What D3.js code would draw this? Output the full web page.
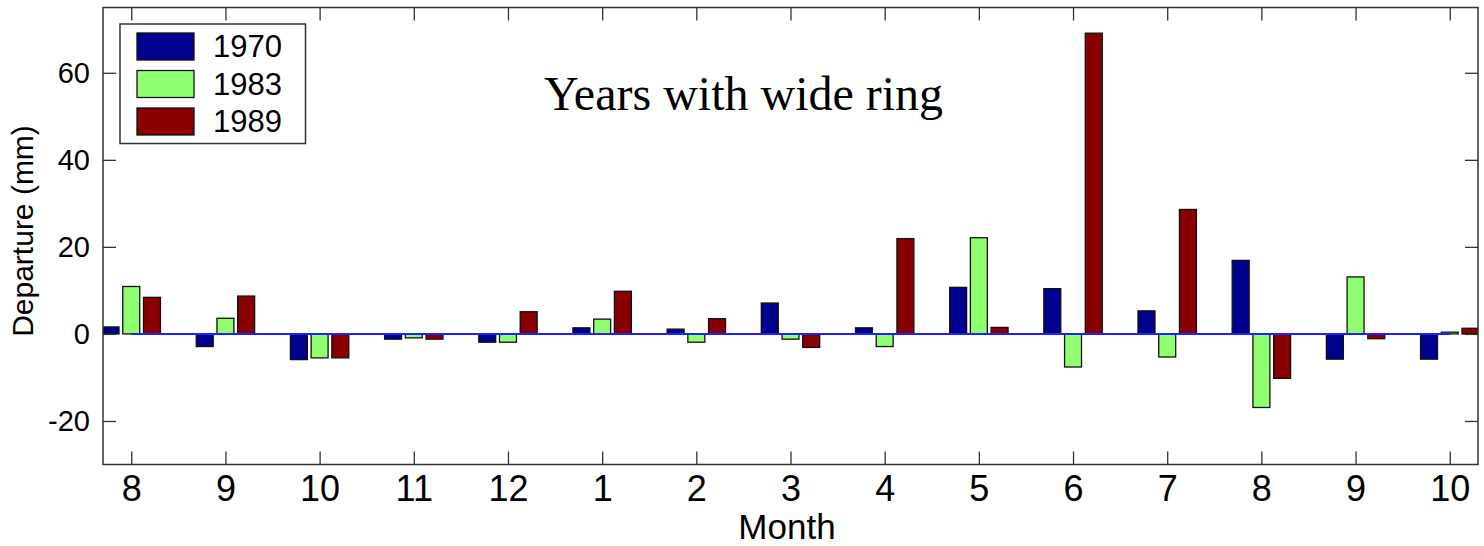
<!DOCTYPE html>
<html>
<head>
<meta charset="utf-8">
<script src="https://cdn.jsdelivr.net/npm/d3@7"></script>
<style>
  body { margin: 0; background: #fff; }
  svg { display: block; font-family: Arial, "Liberation Sans", sans-serif; }
</style>
</head>
<body>
<script>
// data (departure in mm)
let months = ["8", "9", "10", "11", "12", "1", "2", "3", "4", "5", "6", "7", "8", "9", "10"];
let years = ["1970", "1983", "1989"];
let v1970 = [1.6, -2.9, -5.9, -1.2, -1.9, 1.4, 1.1, 7.1, 1.4, 10.7, 10.4, 5.3, 16.9, -5.8, -5.8];
let v1983 = [10.9, 3.6, -5.5, -0.9, -1.9, 3.4, -1.9, -1.2, -2.9, 22.1, -7.6, -5.3, -16.9, 13.1, 0.4];
let v1989 = [8.4, 8.7, -5.5, -1.2, 5.1, 9.8, 3.5, -3.1, 21.9, 1.5, 69.1, 28.6, -10.2, -1.1, 1.3];
let yTicks = [-20, 0, 20, 40, 60];
let colors = ["#00008f", "#8fff70", "#880000"];

let w = 1484;
let h = 546;
let pLeft = 103, pRight = 1478, pTop = 7.5, pBottom = 464.5;

let series = [v1970, v1983, v1989];

let x = d3.scaleLinear()
          .domain([0.7, 15.3])
          .range([pLeft, pRight]);

let y = d3.scaleLinear()
          .domain([-30, 75])
          .range([pBottom, pTop]);

let barW = 0.18;   // in month units
let offs = [-0.22, 0, 0.22];

let svg = d3.select("body")
            .append("svg")
            .attr("width", w)
            .attr("height", h);

svg.append("clipPath")
   .attr("id", "plot")
   .append("rect")
   .attr("x", pLeft)
   .attr("y", pTop)
   .attr("width", pRight - pLeft)
   .attr("height", pBottom - pTop);

let plot = svg.append("g")
              .attr("clip-path", "url(#plot)");

//one group per year
series.forEach((vals, s) => {
	plot.append("g")
	    .selectAll("rect")
	    .data(vals)
	    .enter()
	    .append("rect")
	    .attr("x", (d, i) => x(i + 1 + offs[s] - barW / 2))
	    .attr("width", x(barW) - x(0))
	    .attr("y", d => y(Math.max(0, d)))
	    .attr("height", d => Math.abs(y(d) - y(0)))
	    .style("fill", colors[s])
	    .style("stroke", "#111")
	    .style("stroke-width", 1.3);
});

//zero line from first to last month
plot.append("line")
    .attr("x1", x(1))
    .attr("x2", x(months.length))
    .attr("y1", y(0))
    .attr("y2", y(0))
    .style("stroke", "#2020ff")
    .style("stroke-width", 2);

//axes box with inward ticks on all sides
let tickLen = 13;
let monthIdx = d3.range(1, months.length + 1);

let xAxisB = d3.axisBottom(x)
               .tickValues(monthIdx)
               .tickSize(-tickLen)
               .tickFormat(d => months[d - 1]);
let xAxisT = d3.axisTop(x)
               .tickValues(monthIdx)
               .tickSize(-tickLen)
               .tickFormat("");
let yAxisL = d3.axisLeft(y)
               .tickValues(yTicks)
               .tickSize(-tickLen)
               .tickFormat(d => String(d));
let yAxisR = d3.axisRight(y)
               .tickValues(yTicks)
               .tickSize(-tickLen)
               .tickFormat("");

let gx = svg.append("g")
            .attr("transform", `translate(0,${pBottom})`)
            .call(xAxisB);
gx.selectAll("text")
  .attr("y", 0)
  .attr("dy", "1.02em")
  .style("font-size", "36px")
  .style("fill", "#000");

svg.append("g")
   .attr("transform", `translate(0,${pTop})`)
   .call(xAxisT);

let gy = svg.append("g")
            .attr("transform", `translate(${pLeft},0)`)
            .call(yAxisL);
gy.selectAll("text")
  .attr("x", -13)
  .style("font-size", "29px")
  .style("fill", "#000");

svg.append("g")
   .attr("transform", `translate(${pRight},0)`)
   .call(yAxisR);

svg.selectAll(".domain").remove();
svg.selectAll(".tick line")
   .style("stroke", "#333")
   .style("stroke-width", 1.3);

svg.append("rect")
   .attr("x", pLeft)
   .attr("y", pTop)
   .attr("width", pRight - pLeft)
   .attr("height", pBottom - pTop)
   .style("fill", "none")
   .style("stroke", "#333")
   .style("stroke-width", 1.5);

//axis titles
svg.append("text")
   .attr("x", 787)
   .attr("y", 539)
   .attr("text-anchor", "middle")
   .style("font-size", "35px")
   .text("Month");

svg.append("text")
   .attr("transform", "translate(33,231) rotate(-90)")
   .attr("text-anchor", "middle")
   .style("font-size", "30px")
   .text("Departure (mm)");

//title inside the plot
svg.append("text")
   .attr("x", 544)
   .attr("y", 110)
   .style("font-family", "'Liberation Serif', 'Times New Roman', serif")
   .style("font-size", "48px")
   .text("Years with wide ring");

//legend
let legend = svg.append("g")
                .attr("class", "legend");

legend.append("rect")
      .attr("x", 120)
      .attr("y", 24)
      .attr("width", 185.5)
      .attr("height", 119.5)
      .style("fill", "#fff")
      .style("stroke", "#333")
      .style("stroke-width", 1.5);

let rows = legend.selectAll("g.row")
                 .data(years)
                 .enter()
                 .append("g")
                 .attr("class", "row")
                 .attr("transform", (d, i) => `translate(0,${i * 37.5})`);

rows.append("rect")
    .attr("x", 137)
    .attr("y", 33)
    .attr("width", 57)
    .attr("height", 27)
    .style("fill", (d, i) => colors[i])
    .style("stroke", "#111")
    .style("stroke-width", 1.3);

rows.append("text")
    .attr("x", 213)
    .attr("y", 57)
    .style("font-size", "31px")
    .text(d => d);
</script>
</body>
</html>
